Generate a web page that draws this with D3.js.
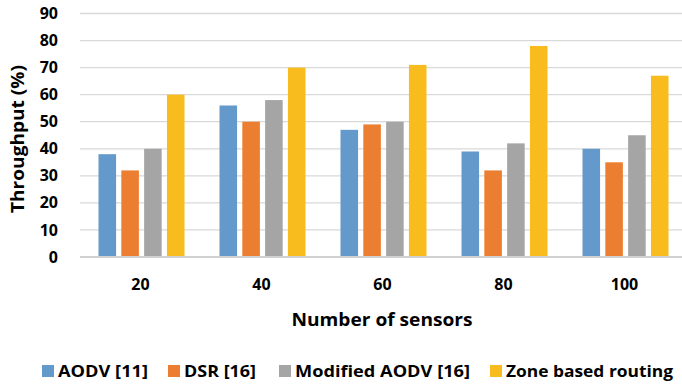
<!DOCTYPE html>
<html>
<head>
<meta charset="utf-8">
<script src="https://cdn.jsdelivr.net/npm/d3@7"></script>
<style>
  body { margin: 0; background: #fff; }
  text { font-family: "Open Sans", sans-serif; font-weight: bold; fill: #000; }
</style>
</head>
<body>
<svg id="chart"></svg>
<script>
const sensors = ["20", "40", "60", "80", "100"];
const seriesNames = ["AODV [11]", "DSR [16]", "Modified AODV [16]", "Zone based routing"];
const aodv = [38, 56, 47, 39, 40];
const dsr = [32, 50, 49, 32, 35];
const modAodv = [40, 58, 50, 42, 45];
const zone = [60, 70, 71, 78, 67];
const yTicks = [0, 10, 20, 30, 40, 50, 60, 70, 80, 90];
const colors = ["#6399CB", "#EC7E31", "#A5A5A5", "#F8BC1E"];

const width = 682;
const height = 385;
const margin = { top: 13.5, right: -3, bottom: 128, left: 80 };

const svg = d3.select("#chart")
    .attr("width", width)
    .attr("height", height);

const allSeries = [aodv, dsr, modAodv, zone];
const rows = sensors.map((s, i) => ({ s, vals: allSeries.map(a => a[i]) }));

const x = d3.scaleBand()
    .domain(sensors)
    .range([margin.left, width - margin.right]);

const x1 = d3.scaleBand()
    .domain(d3.range(4))
    .range([x.bandwidth() / 2 - 42, x.bandwidth() / 2 + 44])
    .paddingInner(0.23);

const y = d3.scaleLinear()
    .domain([0, 90])
    .range([height - margin.bottom, margin.top]);

// gridlines
svg.append("g")
    .selectAll("line")
    .data(yTicks.slice(1))
    .enter().append("line")
    .attr("x1", margin.left)
    .attr("x2", width)
    .attr("y1", d => y(d))
    .attr("y2", d => y(d))
    .attr("stroke", "#d9d9d9")
    .attr("stroke-width", 1.3);

// y tick labels
svg.append("g")
    .selectAll("text")
    .data(yTicks)
    .enter().append("text")
    .attr("x", 58)
    .attr("y", d => y(d))
    .attr("dy", "0.35em")
    .attr("text-anchor", "end")
    .attr("font-size", 16)
    .text(d => d);

// bars
svg.append("g")
    .selectAll("g")
    .data(rows)
    .enter().append("g")
    .attr("transform", d => `translate(${x(d.s)},0)`)
    .selectAll("rect")
    .data(d => d.vals)
    .enter().append("rect")
    .attr("x", (d, i) => x1(i))
    .attr("width", x1.bandwidth())
    .attr("y", d => y(d))
    .attr("height", d => y(0) - y(d))
    .attr("fill", (d, i) => colors[i]);

// axis line
svg.append("line")
    .attr("x1", margin.left)
    .attr("x2", width)
    .attr("y1", y(0))
    .attr("y2", y(0))
    .attr("stroke", "#d0d0d0")
    .attr("stroke-width", 2);

// x labels
svg.append("g")
    .selectAll("text")
    .data(sensors)
    .enter().append("text")
    .attr("x", d => x(d) + x.bandwidth() / 2)
    .attr("y", 284)
    .attr("dy", "0.35em")
    .attr("text-anchor", "middle")
    .attr("font-size", 16)
    .text(d => d);

svg.append("text")
    .attr("x", 382)
    .attr("y", 320)
    .attr("dy", "0.35em")
    .attr("text-anchor", "middle")
    .attr("font-size", 17.5)
    .attr("textLength", 181)
    .attr("lengthAdjust", "spacingAndGlyphs")
    .text("Number of sensors");

svg.append("text")
    .attr("transform", `translate(18,139) rotate(-90)`)
    .attr("dy", "0.35em")
    .attr("text-anchor", "middle")
    .attr("font-size", 17.5)
    .attr("textLength", 148)
    .attr("lengthAdjust", "spacingAndGlyphs")
    .text("Throughput (%)");

// legend
const legendX = [42, 168, 279, 490];
const legendW = [90, 72, 175, 167];
const legend = svg.append("g")
    .selectAll("g")
    .data(seriesNames)
    .enter().append("g")
    .attr("transform", (d, i) => `translate(${legendX[i]},371)`);

legend.append("rect")
    .attr("x", 0)
    .attr("y", -6)
    .attr("width", 12)
    .attr("height", 12)
    .attr("fill", (d, i) => colors[i]);

legend.append("text")
    .attr("x", 16)
    .attr("dy", "0.35em")
    .attr("font-size", 16.5)
    .attr("textLength", (d, i) => legendW[i])
    .attr("lengthAdjust", "spacingAndGlyphs")
    .text(d => d);
</script>
</body>
</html>
